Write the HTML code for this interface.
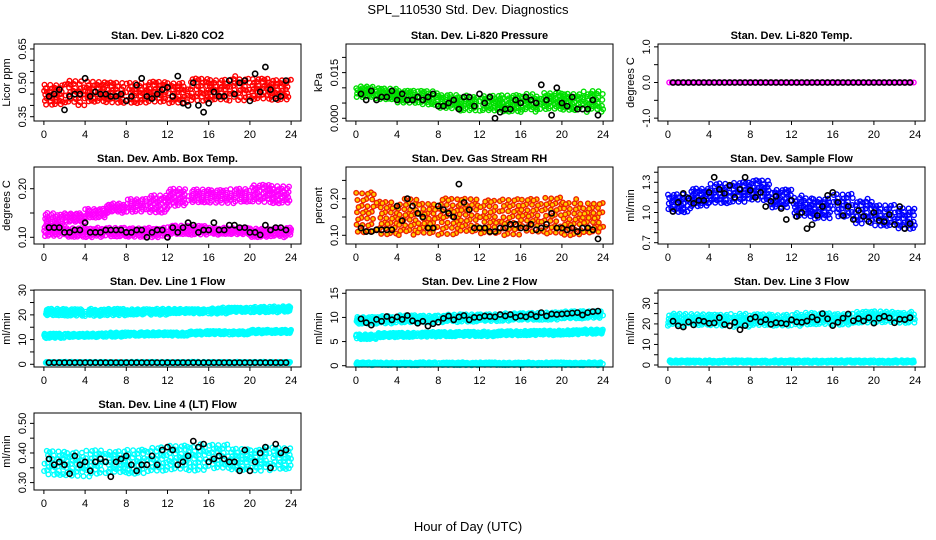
<!DOCTYPE html>
<html><head><meta charset="utf-8"><style>
html,body{margin:0;padding:0;background:#fff;}
svg{display:block;font-family:"Liberation Sans",sans-serif;}
</style></head><body>
<svg id="chart" width="936" height="540" viewBox="0 0 936 540">
<text x="468" y="14" text-anchor="middle" font-size="13">SPL_110530  Std. Dev. Diagnostics</text>
<text x="468" y="531" text-anchor="middle" font-size="13">Hour of Day (UTC)</text>
</svg>
<script>
// x categories
const xTicks = [0,4,8,12,16,20,24];
const segHours = [0,2,4,6,8,10,12,14,16,18,20,22];
const blackHours = [0.5,1,1.5,2,2.5,3,3.5,4,4.5,5,5.5,6,6.5,7,7.5,8,8.5,9,9.5,10,10.5,11,11.5,12,12.5,13,13.5,14,14.5,15,15.5,16,16.5,17,17.5,18,18.5,19,19.5,20,20.5,21,21.5,22,22.5,23,23.5];

// Panel 1 CO2
const p1Lo = [0.40,0.40,0.41,0.41,0.40,0.41,0.41,0.41,0.42,0.42,0.42,0.42];
const p1Hi = [0.50,0.51,0.51,0.51,0.50,0.51,0.51,0.52,0.52,0.53,0.52,0.52];
const p1Black = [0.44,0.45,0.47,0.38,0.44,0.45,0.45,0.52,0.44,0.46,0.45,0.45,0.44,0.44,0.45,0.42,0.44,0.49,0.52,0.44,0.43,0.45,0.47,0.48,0.44,0.53,0.41,0.40,0.50,0.40,0.37,0.41,0.46,0.44,0.44,0.51,0.45,0.50,0.51,0.42,0.54,0.46,0.57,0.47,0.43,0.44,0.51];
const p1Ticks = [0.35,0.40,0.45,0.50,0.55,0.60,0.65];
const p1Labels = ["0.35","0.50","0.65"];
// Panel 2 Pressure
const p2Lo = [0.0065,0.006,0.005,0.004,0.003,0.0025,0.002,0.002,0.002,0.0025,0.0025,0.002];
const p2Hi = [0.0105,0.010,0.0095,0.009,0.008,0.0075,0.0075,0.008,0.008,0.0085,0.0085,0.009];
const p2Black = [0.008,0.006,0.009,0.006,0.007,0.007,0.009,0.006,0.008,0.006,0.006,0.007,0.006,0.007,0.008,0.004,0.004,0.005,0.006,0.003,0.007,0.007,0.004,0.008,0.005,0.007,0.000,0.002,0.003,0.003,0.006,0.005,0.007,0.006,0.005,0.011,0.006,0.001,0.010,0.005,0.004,0.007,0.003,0.003,0.003,0.006,0.001];
const p2Ticks = [0,0.005,0.010,0.015,0.020];
const p2Labels = ["0.000","0.015"];
// Panel 3 Temp
const p3Lo = [0,0,0,0,0,0,0,0,0,0,0,0];
const p3Hi = [0,0,0,0,0,0,0,0,0,0,0,0];
const p3Black = [0,0,0,0,0,0,0,0,0,0,0,0,0,0,0,0,0,0,0,0,0,0,0,0,0,0,0,0,0,0,0,0,0,0,0,0,0,0,0,0,0,0,0,0,0,0,0];
const p3Ticks = [-1,-0.5,0,0.5,1];
const p3Labels = ["-1.0","0.0","1.0"];
// Panel 4 Amb box temp (two clusters)
const p4LoA = [0.12,0.13,0.14,0.15,0.15,0.15,0.16,0.17,0.17,0.17,0.17,0.17];
const p4HiA = [0.15,0.15,0.16,0.17,0.18,0.19,0.20,0.20,0.20,0.20,0.21,0.21];
const p4LoB = [0.10,0.10,0.10,0.10,0.10,0.10,0.105,0.105,0.105,0.105,0.10,0.10];
const p4HiB = [0.125,0.12,0.12,0.12,0.12,0.12,0.125,0.125,0.12,0.12,0.12,0.12];
const p4Black = [0.12,0.12,0.12,0.11,0.11,0.115,0.115,0.13,0.11,0.11,0.11,0.115,0.115,0.115,0.115,0.11,0.11,0.115,0.115,0.10,0.11,0.115,0.115,0.10,0.12,0.11,0.12,0.13,0.125,0.11,0.115,0.115,0.13,0.115,0.115,0.125,0.125,0.12,0.12,0.11,0.11,0.105,0.125,0.115,0.12,0.12,0.115];
const p4Ticks = [0.10,0.15,0.20];
const p4Labels = ["0.10","0.20"];
// Panel 5 Gas stream RH
const p5Lo = [0.10,0.10,0.10,0.10,0.10,0.10,0.10,0.10,0.10,0.10,0.10,0.10];
const p5Hi = [0.22,0.20,0.20,0.19,0.21,0.20,0.20,0.21,0.20,0.21,0.20,0.19];
const p5Black = [0.12,0.11,0.11,0.115,0.115,0.115,0.115,0.18,0.14,0.20,0.18,0.16,0.15,0.12,0.12,0.18,0.17,0.16,0.15,0.24,0.19,0.17,0.12,0.12,0.12,0.11,0.11,0.12,0.12,0.13,0.13,0.12,0.12,0.13,0.115,0.12,0.13,0.16,0.12,0.12,0.115,0.12,0.11,0.12,0.12,0.115,0.09];
const p5Ticks = [0.10,0.15,0.20,0.25];
const p5Labels = ["0.10","0.20"];
// Panel 6 Sample flow
const p6Lo = [1.00,1.04,1.08,1.10,1.10,1.04,0.96,0.92,0.95,0.89,0.85,0.83];
const p6Hi = [1.20,1.24,1.30,1.32,1.32,1.24,1.17,1.14,1.20,1.14,1.08,1.06];
const p6Black = [1.01,1.10,1.19,1.14,1.09,1.12,1.12,1.20,1.35,1.23,1.19,1.27,1.15,1.23,1.35,1.22,1.15,1.20,1.06,1.11,1.16,1.04,0.93,1.12,0.96,1.00,0.84,0.88,0.97,1.06,1.17,1.20,1.10,0.97,1.06,0.93,1.02,0.96,0.91,1.00,0.92,0.91,0.98,0.88,1.06,0.84,0.89];
const p6Ticks = [0.7,0.8,0.9,1.0,1.1,1.2,1.3,1.4];
const p6Labels = ["0.7","1.0","1.3"];
// Panel 7 Line 1 flow
const p7LoA = [19.5,19.5,19.5,19.5,20.0,20.0,20.5,20.5,20.5,21.0,21.0,21.0];
const p7HiA = [22.5,22.5,22.5,22.5,22.5,22.5,22.5,22.5,23.0,23.0,23.5,23.5];
const p7LoB = [10.5,11.0,11.0,11.0,11.5,11.5,11.5,12.0,12.0,12.0,12.5,12.5];
const p7HiB = [12.5,12.5,12.5,13.0,13.0,13.0,13.0,13.5,13.5,13.5,14.0,14.0];
const p7LoC = [0.4,0.4,0.4,0.4,0.4,0.4,0.4,0.4,0.4,0.4,0.4,0.4];
const p7HiC = [1.0,1.0,1.0,1.0,1.0,1.0,1.0,1.0,1.0,1.0,1.0,1.0];
const p7Black = [0.7,0.7,0.7,0.7,0.7,0.7,0.7,0.7,0.7,0.7,0.7,0.7,0.7,0.7,0.7,0.7,0.7,0.7,0.7,0.7,0.7,0.7,0.7,0.7,0.7,0.7,0.7,0.7,0.7,0.7,0.7,0.7,0.7,0.7,0.7,0.7,0.7,0.7,0.7,0.7,0.7,0.7,0.7,0.7,0.7,0.7,0.7];
const p7Ticks = [0,5,10,15,20,25,30];
const p7Labels = ["0","10","20","30"];
// Panel 8 Line 2 flow
const p8LoA = [8.6,8.7,8.8,8.9,9.0,9.0,9.2,9.3,9.4,9.5,9.6,9.8];
const p8HiA = [10.2,10.3,10.5,10.5,10.6,10.7,10.8,10.9,11.0,11.2,11.3,11.4];
const p8LoB = [5.5,5.8,5.9,6.0,6.0,6.1,6.1,6.2,6.3,6.3,6.4,6.6];
const p8HiB = [6.6,6.8,6.9,7.0,7.0,7.1,7.1,7.2,7.3,7.3,7.4,7.6];
const p8LoC = [0.1,0.1,0.1,0.1,0.1,0.1,0.1,0.1,0.1,0.1,0.1,0.1];
const p8HiC = [0.7,0.7,0.7,0.7,0.7,0.7,0.7,0.7,0.7,0.7,0.7,0.7];
const p8Black = [9.7,8.9,8.4,9.6,9.2,10.2,9.5,10.1,9.6,10.4,9.3,8.8,9.2,8.2,8.7,9.0,9.8,10.3,9.5,10.1,10.4,9.5,10.0,10.0,10.3,10.2,10.1,10.6,10.3,10.6,10.0,10.3,10.1,10.6,10.2,11.0,10.3,10.7,10.6,10.7,10.8,10.9,11.0,10.5,11.0,11.2,11.3];
const p8Ticks = [0,5,10,15];
const p8Labels = ["0","5","10","15"];
// Panel 9 Line 3 flow
const p9LoA = [19,19,19,18.5,19,19,19,19.5,19.5,20,20.5,20.5];
const p9HiA = [25,25,25,25,25,25,25.5,25.5,25.5,26,26.5,26];
const p9LoC = [1.0,1.0,1.0,1.0,1.0,1.0,1.0,1.0,1.0,1.0,1.0,1.0];
const p9HiC = [2.3,2.3,2.3,2.3,2.3,2.3,2.3,2.3,2.3,2.3,2.3,2.3];
const p9Black = [21.3,19.1,18.5,21,19.5,21.7,21.2,20.3,20.5,23.0,19.7,19.1,20.8,17.2,19.2,22.5,23.3,21,22.1,19.8,20.6,20.4,20.0,22.0,21.0,20.8,21.4,23.3,22.0,25.0,22.5,19.2,20.8,22.8,24.8,21.5,22.6,21.4,23.0,20.4,22.8,23.7,22.9,20.6,22.3,22.1,23.0];
const p9Ticks = [0,5,10,15,20,25,30,35];
const p9Labels = ["0","10","20","30"];
// Panel 10 Line 4 flow
const p10Lo = [0.32,0.32,0.32,0.33,0.33,0.33,0.34,0.34,0.34,0.34,0.34,0.34];
const p10Hi = [0.41,0.41,0.41,0.41,0.42,0.42,0.43,0.43,0.43,0.42,0.42,0.42];
const p10Black = [0.38,0.36,0.37,0.36,0.33,0.39,0.36,0.37,0.34,0.37,0.38,0.37,0.32,0.37,0.38,0.39,0.36,0.34,0.36,0.36,0.39,0.36,0.41,0.42,0.41,0.36,0.37,0.39,0.44,0.42,0.43,0.37,0.38,0.39,0.38,0.37,0.37,0.34,0.41,0.34,0.37,0.40,0.42,0.35,0.43,0.40,0.41];
const p10Ticks = [0.30,0.35,0.40,0.45,0.50];
const p10Labels = ["0.30","0.40","0.50"];

const NS = "http://www.w3.org/2000/svg";
const svg = document.getElementById('chart');
function mk(tag, attrs, parent){const e=document.createElementNS(NS,tag);for(const k in attrs)e.setAttribute(k,attrs[k]);(parent||svg).appendChild(e);return e;}

const colL=[34,346,658], rowT=[44,167,290,413], W=267, H=77;
const panels = [
 {c:0,r:0,title:"Stan. Dev. Li-820 CO2",yl:"Licor ppm",ymin:0.331,ymax:0.672,bands:[[p1Lo,p1Hi]],black:p1Black,ticks:p1Ticks,labels:p1Labels,col:"#ff0000"},
 {c:1,r:0,title:"Stan. Dev. Li-820 Pressure",yl:"kPa",ymin:-0.0009,ymax:0.0244,bands:[[p2Lo,p2Hi]],black:p2Black,ticks:p2Ticks,labels:p2Labels,col:"#00e000"},
 {c:2,r:0,title:"Stan. Dev. Li-820 Temp.",yl:"degrees C",ymin:-1.08,ymax:1.08,bands:[[p3Lo,p3Hi]],black:p3Black,ticks:p3Ticks,labels:p3Labels,col:"#ff00ff"},
 {c:0,r:1,title:"Stan. Dev. Amb. Box Temp.",yl:"degrees C",ymin:0.0862,ymax:0.2447,bands:[[p4LoA,p4HiA],[p4LoB,p4HiB]],black:p4Black,ticks:p4Ticks,labels:p4Labels,col:"#ff00ff"},
 {c:1,r:1,title:"Stan. Dev. Gas Stream RH",yl:"percent",ymin:0.0762,ymax:0.2866,bands:[[p5Lo,p5Hi]],black:p5Black,ticks:p5Ticks,labels:p5Labels,col:"#ee2200",fill:"#ffcc00"},
 {c:2,r:1,title:"Stan. Dev. Sample Flow",yl:"ml/min",ymin:0.687,ymax:1.452,bands:[[p6Lo,p6Hi]],black:p6Black,ticks:p6Ticks,labels:p6Labels,col:"#0000ff"},
 {c:0,r:2,title:"Stan. Dev. Line 1 Flow",yl:"ml/min",ymin:-1.1,ymax:30.07,bands:[[p7LoA,p7HiA],[p7LoB,p7HiB],[p7LoC,p7HiC]],black:p7Black,ticks:p7Ticks,labels:p7Labels,col:"#00ffff"},
 {c:1,r:2,title:"Stan. Dev. Line 2 Flow",yl:"ml/min",ymin:-0.27,ymax:15.68,bands:[[p8LoA,p8HiA],[p8LoB,p8HiB],[p8LoC,p8HiC]],black:p8Black,ticks:p8Ticks,labels:p8Labels,col:"#00ffff"},
 {c:2,r:2,title:"Stan. Dev. Line 3 Flow",yl:"ml/min",ymin:-0.97,ymax:36.5,bands:[[p9LoA,p9HiA],[p9LoC,p9HiC]],black:p9Black,ticks:p9Ticks,labels:p9Labels,col:"#00ffff"},
 {c:0,r:3,title:"Stan. Dev. Line 4 (LT) Flow",yl:"ml/min",ymin:0.275,ymax:0.535,bands:[[p10Lo,p10Hi]],black:p10Black,ticks:p10Ticks,labels:p10Labels,col:"#00ffff"}
];

panels.forEach((p,pi)=>{
  const L=colL[p.c], T=rowT[p.r];
  const xs=v=>L+(v+0.96)/25.92*W;
  const ys=v=>T+H-(v-p.ymin)/(p.ymax-p.ymin)*H;
  const g=mk('g',{});
  
  
  const t=mk('text',{x:L+W/2,y:T-5,'text-anchor':'middle','font-size':'11','font-weight':'bold'},g);
  t.textContent=p.title;
  
  
  const yl=mk('text',{x:0,y:0,transform:`translate(${L-24},${T+H/2}) rotate(-90)`,'text-anchor':'middle','font-size':'11'},g);
  yl.textContent=p.yl;
  
  
  // colored cloud
  const cloud=mk('g',{fill:p.fill||'none',stroke:p.col,'stroke-width':'1.4'},g);
  
  
  let k=pi*37+1;
  p.bands.forEach(b=>{
    segHours.forEach((h,i)=>{
      const flat=(b[0][i]===b[1][i]);
      const n=flat?8:32;
      for(let j=0;j<n;j++){
        k++;
        const fx=flat?(j+0.5)/n:(0.5+k*0.7548776662)%1;
        const fy=(0.5+k*0.5698402910)%1;
        const hx=h+fx*2;
        const v=b[0][i]+fy*(b[1][i]-b[0][i]);
        const c=mk('circle',{cx:xs(hx).toFixed(1),cy:ys(v).toFixed(1),r:'2.3'},cloud);
        
        
      }
    });
  });
  const bg=mk('g',{fill:'none',stroke:'#000','stroke-width':'1.6'},g);
  
  
  p.black.forEach((v,i)=>{
    const c=mk('circle',{cx:xs(blackHours[i]).toFixed(1),cy:ys(v).toFixed(1),r:'2.6'},bg);
    
    
  });
  const box=mk('rect',{x:L,y:T,width:W,height:H,fill:'none',stroke:'#000','stroke-width':'1'},g);
  
  
  // x axis
  mk('line',{x1:xs(0),x2:xs(24),y1:T+H,y2:T+H,stroke:'#000'},g);
  xTicks.forEach(v=>{
    mk('line',{x1:xs(v),x2:xs(v),y1:T+H,y2:T+H+4,stroke:'#000'},g);
    const tx=mk('text',{x:xs(v),y:T+H+17,'text-anchor':'middle','font-size':'11'},g);
    tx.textContent=String(v);
    
    
  });
  // y axis
  mk('line',{x1:L,x2:L,y1:ys(p.ticks[0]),y2:ys(p.ticks[p.ticks.length-1]),stroke:'#000'},g);
  p.ticks.forEach(v=>{mk('line',{x1:L-4,x2:L,y1:ys(v),y2:ys(v),stroke:'#000'},g);});
  p.labels.forEach(s=>{
    const v=parseFloat(s);
    const ty=mk('text',{x:0,y:0,transform:`translate(${L-8},${ys(v)}) rotate(-90)`,'text-anchor':'middle','font-size':'11'},g);
    ty.textContent=s;
    
    
  });
});
</script>
</body></html>
